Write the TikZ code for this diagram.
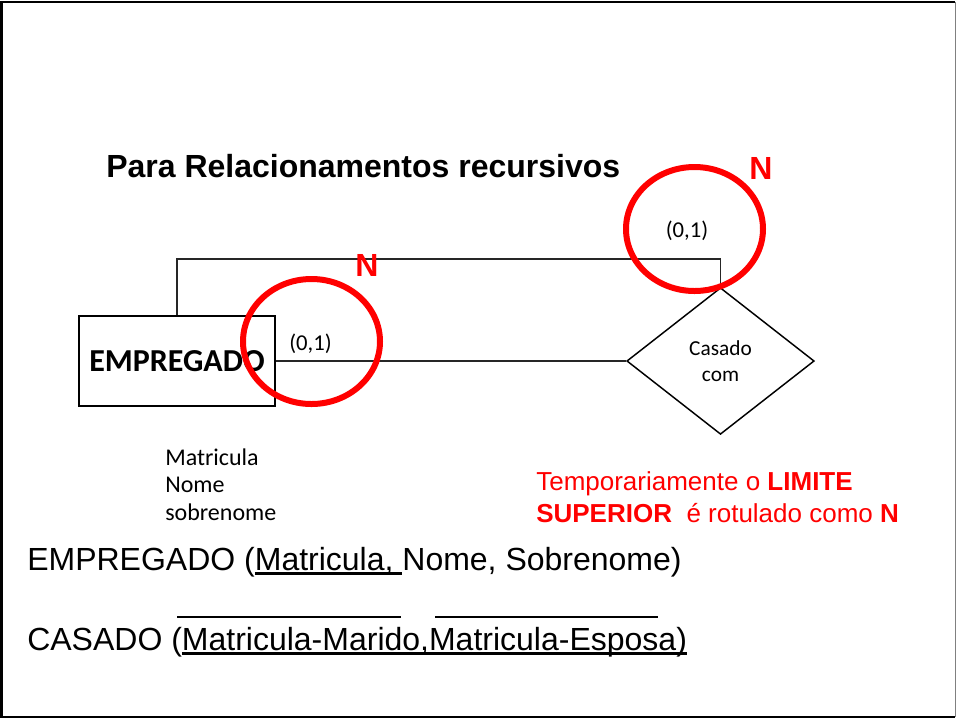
\documentclass[tikz,border=0pt]{standalone}
\usepackage{fontspec}
\setmainfont{Liberation Sans}
\newfontfamily\calib{Carlito}
\usetikzlibrary{shapes.geometric}
\newcommand\myul[1]{\setbox0\hbox{#1}\rlap{\rule[-3.8pt]{\wd0}{2.2pt}}\box0}
\begin{document}
\begin{tikzpicture}[x=0.75pt,y=-0.75pt,
  conn/.style={draw=black!85, line width=0.8pt},
  ring/.style={draw=red, line width=4.5pt},
  redN/.style={text=red, font=\fontsize{24}{28}\selectfont\bfseries, inner sep=0pt},
  card/.style={font=\calib\fontsize{17}{20}\selectfont, inner sep=0pt},
  plain/.style={anchor=base west, inner sep=0pt, align=left},
  bar/.style={line width=1.5pt}
  ]
\useasboundingbox (0,0) rectangle (957,719);
\draw[line width=1.5pt] (955,2) -- (1.5,2) -- (1.5,717) -- (955,717);
\draw[line width=1pt, black!50] (955.5,2) -- (955.5,717);

\node[plain, font=\fontsize{24}{28}\selectfont\bfseries] (title) at (106,177) {Para Relacionamentos recursivos};

\node[draw, line width=1.5pt, minimum width=147pt, minimum height=67.5pt, inner sep=0pt,
  font=\calib\bfseries\fontsize{24}{28}\selectfont] (emp) at (177,361) {EMPREGADO};
\node[diamond, draw, line width=1.1pt, minimum width=140.6pt, minimum height=110pt, aspect=1.28,
  inner sep=0pt, align=center, font=\calib\fontsize{16}{20}\selectfont] (dia) at (720.5,361) {Casado\\com};

\draw[conn] (emp.north) -- ++(0,-56) -| (dia.north);
\draw[conn] (emp.east) -- (dia.west);

\node[card] (c1) at (310.5,343.5) {(0,1)};
\node[card] (c2) at (687,231) {(0,1)};

\draw[ring] (311.5,341.5) ellipse [x radius=68.5, y radius=62.5];
\draw[ring] (694.5,229) ellipse [x radius=68.5, y radius=62];

\node[redN] (n1) at (761,168.5) {N};
\node[redN] (n2) at (367,265.5) {N};

\node[plain, font=\calib\fontsize{18}{20.6}\selectfont] (attr) at (165,520) {Matricula\\Nome\\sobrenome};

\node[plain, text=red, font=\fontsize{19.5}{24}\selectfont] (note) at (536,522)
  {Temporariamente o \textbf{LIMITE}\\\textbf{SUPERIOR}\ \ é rotulado como \textbf{N}};

\node[plain, font=\fontsize{24}{28}\selectfont] (rel1) at (27,570) {EMPREGADO (\myul{Matricula, }Nome, Sobrenome)};
\node[plain, font=\fontsize{24}{28}\selectfont] (rel2) at (27,650) {CASADO (\myul{Matricula-Marido,Matricula-Esposa)}};
\draw[bar] (177,617) -- (401,617);
\draw[bar] (435,617) -- (658,617);
\end{tikzpicture}
\end{document}
